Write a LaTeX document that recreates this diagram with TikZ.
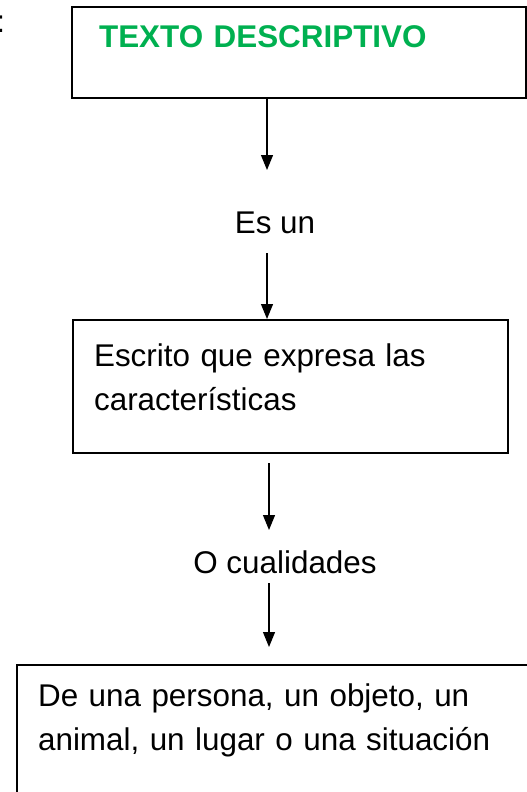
\documentclass[tikz,border=0pt]{standalone}
\usepackage{fontspec}
\setmainfont{Liberation Sans}
\usetikzlibrary{arrows.meta}
\definecolor{mygreen}{RGB}{0,176,80}

\begin{document}
\begin{tikzpicture}[x=0.5pt,y=-0.5pt]

\tikzstyle{frame} = [draw, line width=1.1pt, anchor=north west, inner xsep=10.5pt, inner ysep=0pt,
align=left, font=\fontsize{15.7}{22}\selectfont]
\tikzstyle{plain} = [inner sep=0pt, anchor=base, font=\fontsize{15.7}{22}\selectfont]
\tikzstyle{down} = [-{Triangle[width=6pt,length=7.5pt]}, line width=0.6pt]

\useasboundingbox (0,0) rectangle (526,792);

\node [plain, anchor=base west] (colon) at (-4,33) {:};

\node [frame, inner xsep=13.5pt, text width=200pt, text height=20pt, text depth=25.5pt] (title) at (71,6)
{\textcolor{mygreen}{\textbf{TEXTO DESCRIPTIVO}}};
\coordinate (t1) at (267,170);
\draw [down] (title.south -| t1) -- (t1);

\node [plain] (esun) at (275,233) {Es un};
\coordinate (s2) at (267,253);

\node [frame, text width=196.5pt, text height=23pt, text depth=43.5pt] (escrito) at (72,319)
{Escrito que expresa las\\características};
\draw [down] (s2) -- (s2 |- escrito.north);

\coordinate (s3) at (269,463);
\coordinate (t3) at (269,530);
\draw [down] (s3) -- (t3);

\node [plain] (cual) at (285,573) {O cualidades};
\coordinate (s4) at (269,583);
\coordinate (t4) at (269,647);
\draw [down] (s4) -- (t4);

\node [frame, text width=244pt, text height=20.5pt, text depth=57.5pt] (persona) at (16,664)
{De una persona, un objeto, un\\animal, un lugar o una situación};

\end{tikzpicture}
\end{document}
